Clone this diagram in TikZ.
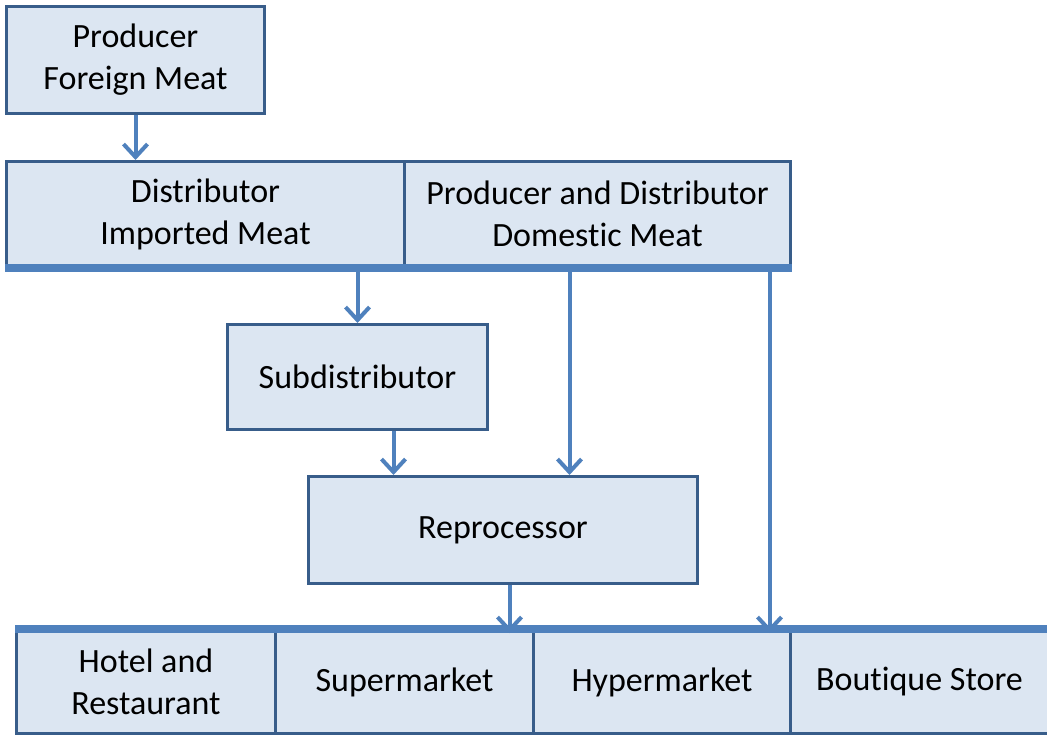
\documentclass[tikz,border=0pt]{standalone}
\usepackage{fontspec}
\setmainfont[Ligatures={NoCommon,NoRare}]{Carlito}
\usetikzlibrary{arrows.meta}
\definecolor{edge}{HTML}{385D8A}
\definecolor{acc}{HTML}{4F81BD}
\definecolor{boxfill}{HTML}{DCE6F2}
\tikzset{
  box/.style={draw=edge, fill=boxfill, line width=3pt, anchor=north west, inner sep=0pt,
    align=center, text=black, font=\fontsize{34}{42}\selectfont},
  arr/.style={draw=acc, line width=4pt, -{Straight Barb[length=13pt,width=24pt,line width=4pt]}},
  bar/.style={draw=acc, line width=8.5pt},
}
\begin{document}
\begin{tikzpicture}[x=1pt,y=-1pt]
\useasboundingbox (0,0) rectangle (1047,734);
% top
\node[box, minimum width=258pt, minimum height=107pt] (pfm) at (5,5) {Producer\\Foreign Meat};
\node[box, minimum width=398pt, minimum height=105pt] (dim) at (5,160) {Distributor\\Imported Meat};
\node[box, minimum width=386pt, minimum height=105pt] (dom) at (403,160) {Producer and Distributor\\Domestic Meat};
\draw[bar] (dim.south west) -- (dom.south east);
\node[box, minimum width=260pt, minimum height=105pt] (sub) at (226,323) {Subdistributor};
\node[box, minimum width=389pt, minimum height=107pt] (rep) at (307,475) {Reprocessor};
% bottom row
\node[box, minimum width=259pt, minimum height=103pt] (hot) at (15,629) {Hotel and\\Restaurant};
\node[box, minimum width=258pt, minimum height=103pt] (sup) at (274,629) {Supermarket};
\node[box, minimum width=257pt, minimum height=103pt] (hyp) at (532,629) {Hypermarket};
\node[box, minimum width=258pt, minimum height=103pt] (bou) at (789,629) {Boutique Store};
\draw[bar] (hot.north west) -- ([xshift=2pt]bou.north east);
% arrows
\draw[arr] (pfm.south) -- (pfm.south |- dim.north);
\draw[arr] ([yshift=4pt]sub.north |- dim.south) -- (sub.north);
\draw[arr] ([xshift=-28pt,yshift=4pt]dom.south) -- ([xshift=-28pt]dom.south |- rep.north);
\draw[arr] ([xshift=172pt,yshift=4pt]dom.south) -- ([xshift=172pt,yshift=-4pt]dom.south |- hyp.north);
\draw[arr] ([xshift=36pt]sub.south) -- ([xshift=36pt]sub.south |- rep.north);
\draw[arr] ([xshift=6.5pt]rep.south) -- ([xshift=6.5pt,yshift=-4pt]rep.south |- sup.north);
\end{tikzpicture}
\end{document}
